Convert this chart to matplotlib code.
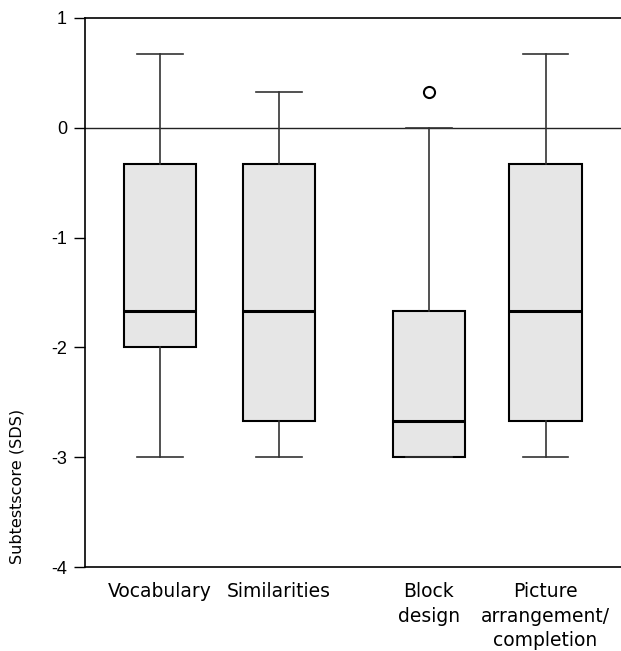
import matplotlib.pyplot as plt

# subtest box statistics (SDS)
subtests = ["Vocabulary", "Similarities", "Block\ndesign", "Picture\narrangement/\ncompletion"]
whisker_low = [-3.0, -3.0, -3.0, -3.0]
q1 = [-2.0, -2.67, -3.0, -2.67]
medians = [-1.67, -1.67, -2.67, -1.67]
q3 = [-0.33, -0.33, -1.67, -0.33]
whisker_high = [0.67, 0.33, 0.0, 0.67]
outliers = [[], [], [0.33], []]

positions = [1.0, 2.0, 3.26, 4.24]

stats = []
for i in range(len(subtests)):
    stats.append(dict(label=subtests[i], whislo=whisker_low[i], q1=q1[i], med=medians[i],
                      q3=q3[i], whishi=whisker_high[i], fliers=outliers[i]))

fig = plt.figure(figsize=(6.21, 6.51), dpi=100)
ax = fig.add_axes([85 / 621, 1 - 567 / 651, 1 - 85 / 621, (567 - 18) / 651])

ax.axhline(0, color='#222222', lw=1.0, zorder=1)

ax.bxp(stats, positions=positions, widths=0.61, patch_artist=True,
       boxprops=dict(facecolor='#e6e6e6', edgecolor='black', lw=1.5),
       medianprops=dict(color='black', lw=2.2),
       whiskerprops=dict(color='#333333', lw=1.2),
       capprops=dict(color='#333333', lw=1.2),
       flierprops=dict(marker='o', markersize=8, markerfacecolor='white',
                       markeredgecolor='black', markeredgewidth=1.5),
       capwidths=0.38, zorder=2)

ax.set_xlim(0.37, 4.874)
ax.set_ylim(-4, 1)
ax.set_yticks([-4, -3, -2, -1, 0, 1])
ax.set_yticklabels(['-4', '-3', '-2', '-1', '0', '1'], fontsize=13, family='Liberation Sans')
ax.set_xticks(positions)
ax.set_xticklabels(subtests, fontsize=13.5, linespacing=1.35)
ax.tick_params(axis='x', length=0, pad=11)
ax.tick_params(axis='y', length=8, width=1, direction='out', pad=5)
ax.set_ylabel('Subtestscore (SDS)', fontsize=11.6)
ax.yaxis.set_label_coords(-0.112, 0.146)

ax.spines['right'].set_visible(False)
for s in ['left', 'top', 'bottom']:
    ax.spines[s].set_linewidth(1.2)

fig.savefig('out.png', dpi=100)
